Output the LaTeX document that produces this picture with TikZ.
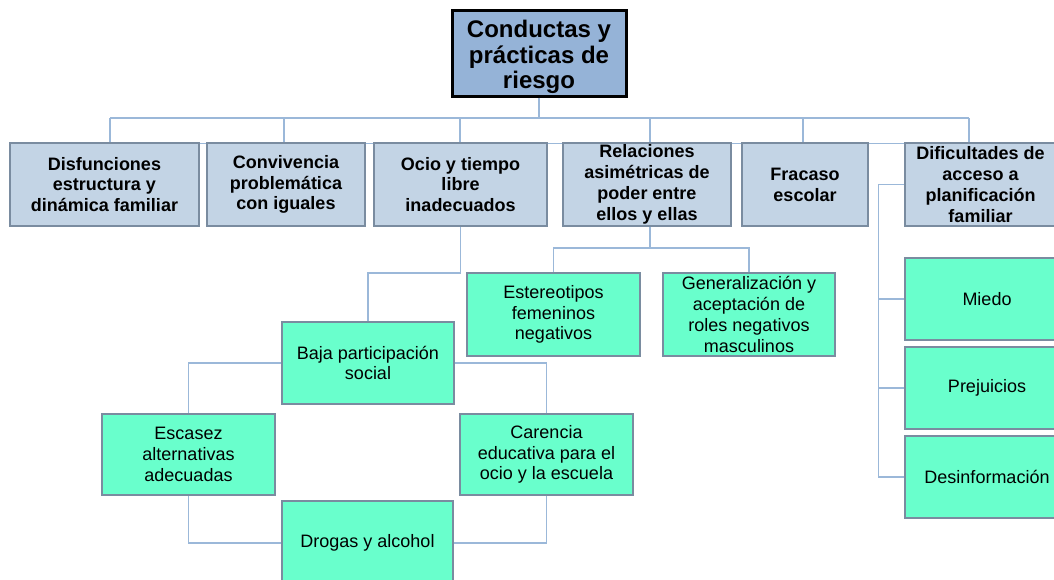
\documentclass[tikz,border=0pt]{standalone}
\usepackage{fontspec}
\setmainfont{Liberation Sans}
\definecolor{rootfill}{HTML}{95B3D7}
\definecolor{lonefill}{HTML}{C3D4E5}
\definecolor{greenfill}{HTML}{69FFCC}
\definecolor{boxborder}{HTML}{7A8CA0}
\definecolor{conncol}{HTML}{9BB8D9}
\tikzset{
  rootbox/.style={draw=black, fill=rootfill, line width=3pt, inner sep=0pt,
    minimum width=174pt, minimum height=86pt},
  roottext/.style={inner sep=0pt, align=center, font=\bfseries\fontsize{24}{25.5}\selectfont},
  lonebox/.style={draw=boxborder, fill=lonefill, line width=2.6pt, inner sep=0pt, align=center,
    font=\bfseries\fontsize{18}{20.8}\selectfont, minimum height=83pt},
  greenbox/.style={draw=boxborder, fill=greenfill, line width=2.6pt, inner sep=0pt, align=center,
    font=\fontsize{18}{20.7}\selectfont, minimum height=82pt},
  conn/.style={draw=conncol, line width=1.4pt}
}
\begin{document}
\begin{tikzpicture}[x=1pt,y=-1pt]
\useasboundingbox (0,0) rectangle (1054,579);
\fill[white] (0,0) rectangle (1054,579);

% faint line behind the first row
\draw[conn, line width=1pt] (200,143) -- (905,143);

% root
\node[rootbox] (root) at (539,53) {};
\node[roottext] (roott) at ([yshift=-4pt]root.center) {Conductas y\\prácticas de\\riesgo};

% first level
\node[lonebox, minimum width=189pt] (disf) at (104.5,184.5) {Disfunciones\\estructura y\\dinámica familiar};
\node[lonebox, minimum width=158pt] (conv) at (286,184.5) {Convivencia\\problemática\\con iguales};
\node[lonebox, minimum width=173pt] (ocio) at (460.5,184.5) {Ocio y tiempo\\libre\\inadecuados};
\node[lonebox, minimum width=168pt] (rel) at (647,184.5) {Relaciones\\asimétricas de\\poder entre\\ellos y ellas};
\node[lonebox, minimum width=126pt] (frac) at (805,184.5) {Fracaso\\escolar};
\node[lonebox, minimum width=151pt] (dif) at (980.5,184.5) {Dificultades de\\acceso a\\planificación\\familiar};

% second level
\node[greenbox, minimum width=173pt, minimum height=83pt] (este) at (553.5,314.5) {Estereotipos\\femeninos\\negativos};
\node[greenbox, minimum width=172pt, minimum height=83pt] (gen) at (749,314.5) {Generalización y\\aceptación de\\roles negativos\\masculinos};
\node[greenbox, minimum width=172pt] (baja) at (368,363) {Baja participación\\social};
\node[greenbox, minimum width=173pt, minimum height=81pt] (esc) at (188.5,454.5) {Escasez\\alternativas\\adecuadas};
\node[greenbox, minimum width=173pt, minimum height=81pt] (car) at (546.5,454.5) {Carencia\\educativa para el\\ocio y la escuela};
\node[greenbox, minimum width=171pt, minimum height=84pt] (drog) at (367.5,543) {Drogas y alcohol};
\node[greenbox, minimum width=164pt] (miedo) at (987,299) {Miedo};
\node[greenbox, minimum width=164pt] (prej) at (987,388) {Prejuicios};
\node[greenbox, minimum width=164pt] (desinf) at (987,477) {Desinformación};

% bus coordinates
\coordinate (busL) at (110,118);
\coordinate (busR) at (969,118);
\coordinate (b2) at (284,118);
\coordinate (b3) at (460,118);
\coordinate (b4) at (650,118);
\coordinate (b5) at (803,118);
\coordinate (relj) at (650,248);
\coordinate (ocj) at (460.5,273);

% connectors
\draw[conn] (root.south) -- (root.south |- busL);
\draw[conn] (busL) -- (busR);
\draw[conn] (busL) -- (busL |- disf.north);
\draw[conn] (b2) -- (b2 |- conv.north);
\draw[conn] (b3) -- (b3 |- ocio.north);
\draw[conn] (b4) -- (b4 |- rel.north);
\draw[conn] (b5) -- (b5 |- frac.north);
\draw[conn] (busR) -- (busR |- dif.north);

\draw[conn] (relj |- rel.south) -- (relj);
\draw[conn] (este.north) |- (relj) -| (gen.north);

\draw[conn] (ocio.south) -- (ocj) -| (baja.north);

\draw[conn] (baja.west) -| (esc.north);
\draw[conn] (baja.east) -| (car.north);
\draw[conn] (esc.south) |- (drog.west);
\draw[conn] (car.south) |- (drog.east);

\draw[conn] (dif.west) -- ++(-25,0) coordinate (dj) |- (desinf.west);
\draw[conn] (dj |- miedo.west) -- (miedo.west);
\draw[conn] (dj |- prej.west) -- (prej.west);
\end{tikzpicture}
\end{document}
